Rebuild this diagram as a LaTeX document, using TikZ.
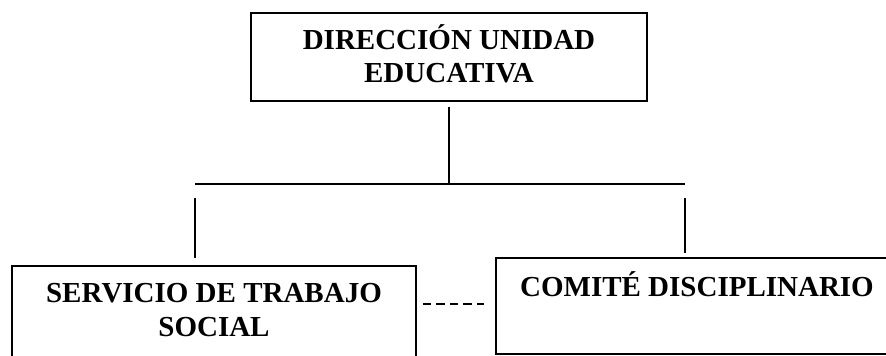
\documentclass[tikz,border=0pt]{standalone}
\usepackage{fontspec}
\setmainfont{Liberation Serif}
\usetikzlibrary{positioning}

\tikzset{
  unitbox/.style={draw,line width=1.6pt,inner sep=0pt,
    font=\fontsize{29}{34}\selectfont\bfseries},
  link/.style={line width=1.3pt},
}

\begin{document}
\begin{tikzpicture}

  \useasboundingbox (0,0) rectangle (886pt,356pt);
  \clip (0,0) rectangle (886pt,356pt);

  % Direccion
  \node [unitbox] (dir) at (449pt,299pt)
    {\parbox[c][88pt][t]{396pt}{\centering\fontsize{29}{33}\selectfont
      \rule{0pt}{37pt}DIRECCIÓN UNIDAD\\EDUCATIVA}};

  % Bar
  \coordinate [below=82.5pt of dir] (bar);
  \coordinate [left=254pt of bar] (barL);
  \coordinate [right=236pt of bar] (barR);
  \draw [link,shorten <=5pt] (dir.south) -- (bar);
  \draw [link,line width=1.7pt] (barL) -- (barR);

  % Servicio
  \node [unitbox] (serv) at (214pt,42pt)
    {\parbox[c][96pt][t]{404pt}{\centering
      \rule{0pt}{37pt}SERVICIO DE TRABAJO\\SOCIAL}};
  \draw [link,shorten <=14pt,shorten >=7pt] (barL) -- (serv.north -| barL);

  % Comite
  \node [unitbox] (com) at (697pt,50pt)
    {\parbox[c][96pt][t]{402pt}{\centering
      \rule{0pt}{39pt}COMITÉ DISCIPLINARIO}};
  \draw [link,shorten <=14pt,shorten >=4pt] (barR) -- (com.north -| barR);

  % Dashed
  \coordinate [above=2pt of com.west] (dl);
  \draw [link,line width=1.6pt,dash pattern=on 8.5pt off 5pt,
    shorten <=6pt,shorten >=11pt] (serv.east |- dl) -- (dl);

\end{tikzpicture}
\end{document}
